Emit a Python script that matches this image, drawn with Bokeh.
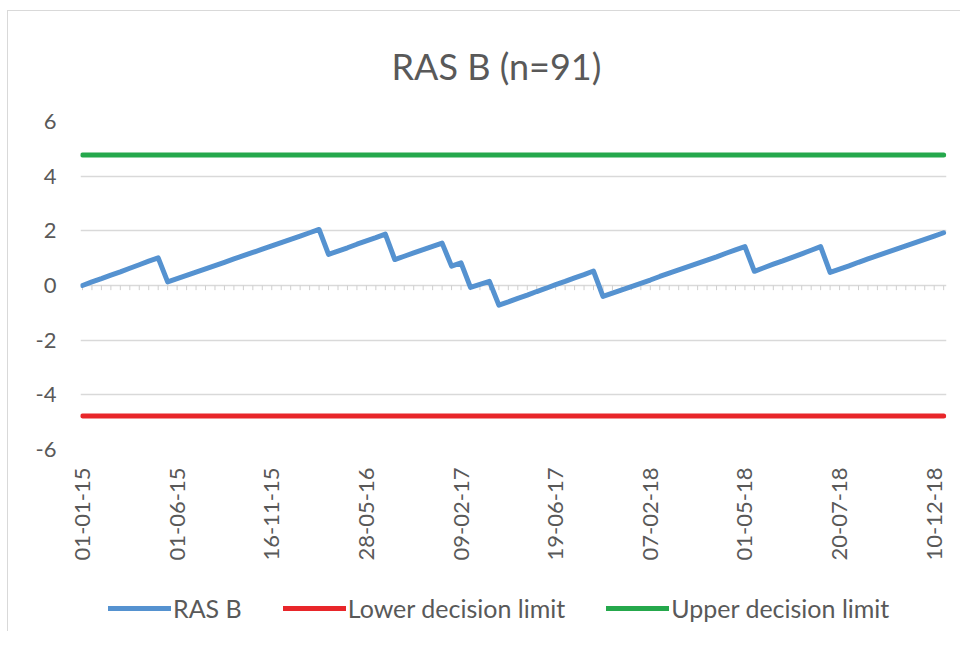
from bokeh.plotting import figure
from bokeh.layouts import column
from bokeh.models import Range1d, FixedTicker, Legend, LegendItem, Title
from bokeh.embed import file_html
from bokeh.resources import INLINE
from math import pi

# ---------------- data ----------------
chart_title = "RAS B (n=91)"
series_name = "RAS B"
lower_name = "Lower decision limit"
upper_name = "Upper decision limit"

tick_positions = [0, 10, 20, 30, 40, 50, 60, 70, 80, 90]
tick_labels = ["01-01-15", "01-06-15", "16-11-15", "28-05-16", "09-02-17",
               "19-06-17", "07-02-18", "01-05-18", "20-07-18", "10-12-18"]

ras_b = [0.00, 0.13, 0.25, 0.38, 0.50, 0.63, 0.76, 0.89, 1.01,
         0.13, 0.25, 0.37, 0.49, 0.61, 0.73, 0.85, 0.97, 1.09, 1.21, 1.33,
         1.45, 1.57, 1.69, 1.81, 1.93, 2.05,
         1.14, 1.26, 1.38, 1.51, 1.63, 1.75, 1.88,
         0.95, 1.07, 1.19, 1.31, 1.43, 1.55,
         0.71, 0.83,
         -0.07, 0.04, 0.15,
         -0.72, -0.60, -0.47, -0.35, -0.22, -0.10, 0.03, 0.15, 0.28, 0.40, 0.53,
         -0.40, -0.28, -0.16, -0.04, 0.08, 0.20, 0.33, 0.45, 0.57, 0.69, 0.81,
         0.93, 1.05, 1.18, 1.30, 1.42,
         0.52, 0.65, 0.78, 0.90, 1.03, 1.16, 1.29, 1.42,
         0.48, 0.60, 0.72, 0.85, 0.97, 1.09, 1.21, 1.33, 1.45, 1.57, 1.69,
         1.81, 1.93]

lower_limit_value = -4.77
upper_limit_value = 4.77

y_ticks = [-6, -4, -2, 0, 2, 4, 6]
y_tick_labels = ["-6", "-4", "-2", "0", "2", "4", "6"]

# ---------------- derived ----------------
idx = list(range(len(ras_b)))
lower_limit = [lower_limit_value for _ in idx]
upper_limit = [upper_limit_value for _ in idx]

FONT = "Lato"
TEXT_COLOR = "#595959"
GRID_COLOR = "#d9d9d9"
BLUE = "#5592d0"
RED = "#e8262a"
GREEN = "#25a84c"

p = figure(width=952, height=560, output_backend="svg", toolbar_location=None,
           x_range=Range1d(-0.21, 91.3), y_range=Range1d(-6, 6),
           min_border_left=72, min_border_right=14,
           min_border_top=109, min_border_bottom=122,
           background_fill_color="white", border_fill_color="white")
p.outline_line_color = None

# title
p.title = Title(text=chart_title, align="left", offset=311, standoff=64,
                vertical_align="top",
                text_font=FONT, text_font_size="36px", text_font_style="normal",
                text_color=TEXT_COLOR)

# grid
p.xgrid.visible = False
p.ygrid.ticker = FixedTicker(ticks=y_ticks)
p.ygrid.grid_line_color = GRID_COLOR
p.ygrid.grid_line_width = 1.5

# y axis
p.yaxis.ticker = FixedTicker(ticks=y_ticks)
p.yaxis.major_label_overrides = {t: s for t, s in zip(y_ticks, y_tick_labels)}
p.yaxis.axis_line_color = None
p.yaxis.major_tick_line_color = None
p.yaxis.minor_tick_line_color = None
p.yaxis.major_tick_out = 0
p.yaxis.major_tick_in = 0
p.yaxis.major_label_standoff = 24
p.yaxis.major_label_text_font = FONT
p.yaxis.major_label_text_font_size = "22px"
p.yaxis.major_label_text_color = TEXT_COLOR

# x axis (labels at bottom, vertical)
p.xaxis.ticker = FixedTicker(ticks=tick_positions)
p.xaxis.major_label_overrides = {pos: lab for pos, lab in zip(tick_positions, tick_labels)}
p.xaxis.major_label_orientation = pi / 2
p.xaxis.axis_line_color = None
p.xaxis.major_tick_line_color = None
p.xaxis.minor_tick_line_color = None
p.xaxis.major_tick_out = 0
p.xaxis.major_tick_in = 0
p.xaxis.major_label_standoff = 18
p.xaxis.major_label_text_font = FONT
p.xaxis.major_label_text_font_size = "22px"
p.xaxis.major_label_text_color = TEXT_COLOR

# category tick marks along the zero line (horizontal axis crosses at 0)
p.segment(x0=idx, y0=[0 for _ in idx], x1=idx, y1=[-0.17 for _ in idx],
          line_color="#cfcfcf", line_width=1)

p.line(idx, upper_limit, line_color=GREEN, line_width=5,
       line_cap="round", line_join="round")
p.line(idx, lower_limit, line_color=RED, line_width=5,
       line_cap="round", line_join="round")
p.line(idx, ras_b, line_color=BLUE, line_width=5,
       line_cap="round", line_join="round")

# ---------------- legend strip (below the chart) ----------------
# same series drawn again, but with an x-range that keeps them out of view:
# they only supply the legend swatches
lg = figure(width=952, height=60, output_backend="svg", toolbar_location=None,
            x_range=Range1d(-3, -2), y_range=Range1d(0, 1),
            x_axis_type=None, y_axis_type=None,
            min_border_left=0, min_border_right=0, min_border_top=0, min_border_bottom=0,
            background_fill_color="white", border_fill_color="white")
lg.outline_line_color = None
lg.grid.visible = False
g_ras = lg.line(idx, ras_b, line_color=BLUE, line_width=5, line_cap="round")
g_low = lg.line(idx, lower_limit, line_color=RED, line_width=5, line_cap="round")
g_up = lg.line(idx, upper_limit, line_color=GREEN, line_width=5, line_cap="round")

legend = Legend(items=[LegendItem(label=series_name, renderers=[g_ras]),
                       LegendItem(label=lower_name, renderers=[g_low]),
                       LegendItem(label=upper_name, renderers=[g_up])],
                orientation="horizontal", location=(28, 8),
                glyph_width=63, glyph_height=26, label_height=26,
                label_standoff=2, spacing=41, padding=0, margin=0,
                border_line_color=None, background_fill_alpha=0,
                label_text_font=FONT, label_text_font_size="25px",
                label_text_color=TEXT_COLOR)
lg.add_layout(legend)

layout = column(p, lg, spacing=0,
                styles={"margin-left": "7px", "margin-top": "10px",
                        "border-top": "1px solid #d9d9d9",
                        "border-left": "1px solid #d9d9d9"})

open("out.html", "w").write(file_html(layout, INLINE))
